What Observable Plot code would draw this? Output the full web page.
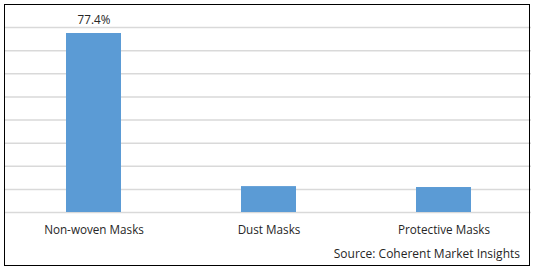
<!DOCTYPE html>
<html>
<head>
<meta charset="utf-8">
<script src="https://cdn.jsdelivr.net/npm/d3@7"></script>
<script src="https://cdn.jsdelivr.net/npm/@observablehq/plot@0.6"></script>
<style>
  html, body { margin: 0; padding: 0; background: #fff; }
  #wrap { position: relative; width: 538px; height: 272px; overflow: hidden; font-family: "Open Sans", sans-serif; }
  #frame { position: absolute; left: 4px; top: 4px; width: 524px; height: 260px; border: 1.5px solid #000; pointer-events: none; }
  #source { position: absolute; right: 18px; top: 245px; font-size: 12px; color: #262626; white-space: nowrap; }
  #chart { position: absolute; left: 0; top: 0; }
</style>
</head>
<body>
<div id="wrap">
  <div id="chart"></div>
  <div id="frame"></div>
  <div id="source">Source: Coherent Market Insights</div>
</div>
<script>
const categories = ["Non-woven Masks", "Dust Masks", "Protective Masks"];
const shares = [77.4, 11.2, 10.8];
const labels = ["77.4%", "", ""];
const gridTicks = [0, 10, 20, 30, 40, 50, 60, 70, 80];

const data = categories.map((c, i) => ({category: c, share: shares[i], label: labels[i]}));

const chart = Plot.plot({
  width: 538,
  height: 272,
  marginLeft: 5,
  marginRight: 7,
  marginTop: 27,
  marginBottom: 60,
  style: {fontFamily: "'Open Sans', sans-serif", fontSize: "11.7px", color: "#262626", background: "transparent"},
  x: {domain: categories, paddingInner: 0.687, paddingOuter: 0.342, label: null},
  y: {domain: [0, 80], label: null, axis: null},
  marks: [
    Plot.ruleY(gridTicks, {stroke: "#d9d9d9", strokeWidth: 1.5}),
    Plot.barY(data, {x: "category", y: "share", fill: "#5b9bd5"}),
    Plot.text(data, {x: "category", y: "share", text: "label", dy: -13, fontSize: 11.7, fill: "#262626"}),
    Plot.axisX({tickSize: 0, tickPadding: 13, fontSize: 11.7, label: null, fill: "#262626"})
  ]
});
document.getElementById("chart").appendChild(chart);
</script>
</body>
</html>
